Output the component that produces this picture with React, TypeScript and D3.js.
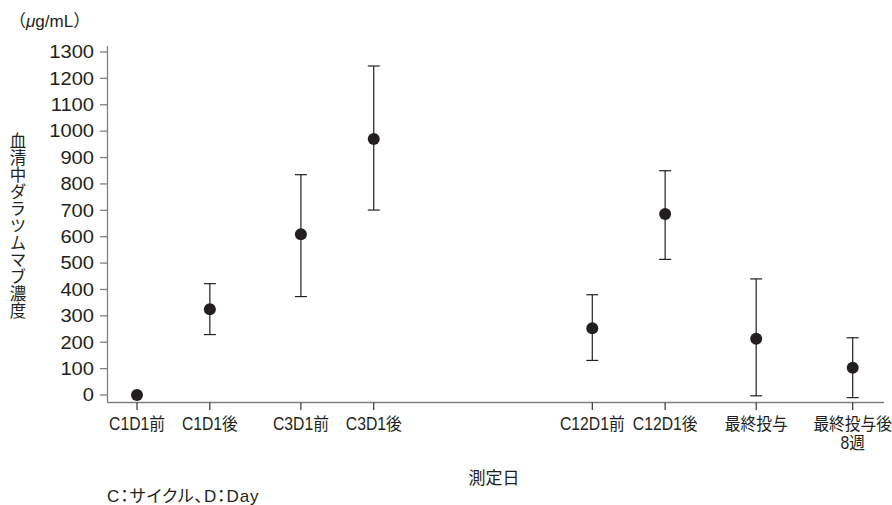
import React from "react";
import * as d3 from "d3";

const categories = ["C1D1前", "C1D1後", "C3D1前", "C3D1後", "C12D1前", "C12D1後", "最終投与", "最終投与後\n8週"];
const slots = [0, 4, 9, 13, 25, 29, 34, 39.3];
const means = [0, 325, 609, 970, 253, 686, 213, 103];
const lows = [null, 229, 373, 701, 131, 514, -3, -10];
const highs = [null, 422, 835, 1247, 380, 850, 440, 217];
const yTicks = [0, 100, 200, 300, 400, 500, 600, 700, 800, 900, 1000, 1100, 1200, 1300];
const yTitle = "血清中ダラツムマブ濃度";

const W = 892;
const H = 505;
const ink = "#231f20";
const axisGray = "#808080";
const fontLatin = "'Liberation Sans', Arial, 'Noto Sans CJK JP', sans-serif";
const fontCJK = "'Noto Sans CJK JP', sans-serif";

export default function App() {
  const x = d3.scaleLinear().domain([0, 39.3]).range([137, 852.7]);
  const y = d3.scaleLinear().domain([0, 1300]).range([395, 52]);
  const axisX = 107.5;
  const axisY = 402.5;

  return (
    <svg width={W} height={H} style={{ position: "absolute", left: 0, top: 0, background: "#fff" }} fontFamily={fontLatin}>
      <rect x={0} y={0} width={W} height={H} fill="#fff" />
      {/* unit */}
      <text x={9} y={27} fontSize={17} fill={ink} fontFamily={fontCJK}>
        （<tspan fontStyle="italic" fontFamily={fontLatin}>μ</tspan><tspan fontFamily={fontLatin}>g/mL</tspan>）
      </text>
      {/* y axis title */}
      <text x={18} y={132} fontSize={16.5} fill={ink} fontFamily={fontCJK}
        style={{ writingMode: "vertical-rl", letterSpacing: "0.5px" }} textAnchor="start">
        {yTitle}
      </text>
      {/* y axis */}
      <line x1={axisX} x2={axisX} y1={46} y2={axisY} stroke={axisGray} strokeWidth={1.3} />
      {yTicks.map((t) => (
        <g key={t}>
          <line x1={100} x2={axisX} y1={y(t)} y2={y(t)} stroke={axisGray} strokeWidth={1.3} />
          <text transform={`translate(94,${y(t)}) scale(1.15,1)`} textAnchor="end" dy="0.36em" fontSize={17.5} fill={ink}>
            {t}
          </text>
        </g>
      ))}
      {/* x axis */}
      <line x1={axisX} x2={884} y1={axisY} y2={axisY} stroke={axisGray} strokeWidth={1.3} />
      {categories.map((c, i) => {
        const lines = c.split("\n");
        return (
          <g key={c}>
            <line x1={x(slots[i])} x2={x(slots[i])} y1={axisY} y2={410} stroke={ink} strokeWidth={1.1} />
            {lines.map((l, j) => (
              <text key={j} transform={`translate(${x(slots[i])},${430 + j * 19}) scale(0.9,1)`} textAnchor="middle" fontSize={17.5} fill={ink}>
                {l}
              </text>
            ))}
          </g>
        );
      })}
      {/* error bars */}
      {means.map((m, i) => {
        const lo = lows[i];
        const hi = highs[i];
        if (lo === null || hi === null) return null;
        const cx = x(slots[i]);
        return (
          <g key={i} stroke={ink} strokeWidth={1.2}>
            <line x1={cx} x2={cx} y1={y(hi)} y2={y(lo)} />
            <line x1={cx - 6} x2={cx + 6} y1={y(hi)} y2={y(hi)} />
            <line x1={cx - 6} x2={cx + 6} y1={y(lo)} y2={y(lo)} />
          </g>
        );
      })}
      {means.map((m, i) => (
        <circle key={i} cx={x(slots[i])} cy={y(m)} r={6} fill={ink} />
      ))}
      {/* x axis title */}
      <text x={494} y={484} textAnchor="middle" fontSize={17} fill={ink} fontFamily={fontCJK}>測定日</text>
      <text x={107} y={502} fontSize={17} fill={ink} style={{ fontFeatureSettings: "'palt'", letterSpacing: "0.9px" }}>C：サイクル、D：Day</text>
    </svg>
  );
}
